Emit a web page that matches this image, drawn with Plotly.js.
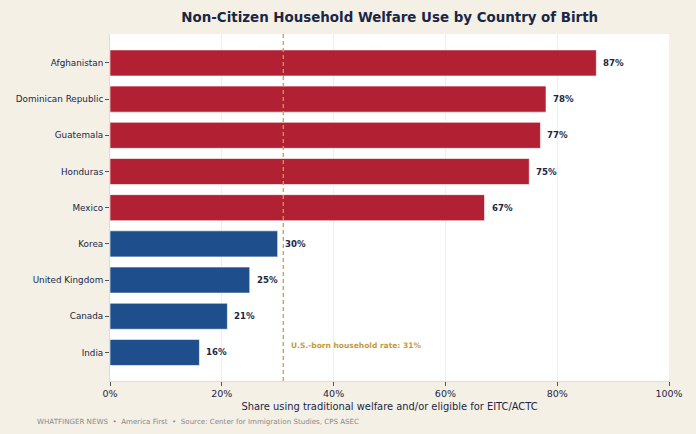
<!DOCTYPE html>
<html><head><meta charset="utf-8">
<script src="https://cdn.plot.ly/plotly-3.0.1.min.js"></script>
<style>html,body{margin:0;padding:0;background:#f4f0e6;}</style>
</head><body>
<div id="chart" style="width:696px;height:434px;"></div>
<script>
const countries = ["Afghanistan","Dominican Republic","Guatemala","Honduras","Mexico","Korea","United Kingdom","Canada","India"];
const shares = [87,78,77,75,67,30,25,21,16];
const usBornRate = 31;
const highColor = "#b22034", lowColor = "#1f4e8c";
const colors = shares.map(v => v > usBornRate ? highColor : lowColor);

const trace = {
  type: "bar", orientation: "h",
  y: countries, x: shares,
  width: 0.72,
  marker: {color: colors, line: {color: "rgba(255,255,255,0.6)", width: 1}},
  hoverinfo: "none"
};

const labelAnnotations = shares.map((v, i) => ({
  xref: "x", yref: "y", x: v, y: countries[i], text: "<b>" + v + "%</b>",
  showarrow: false, xanchor: "left", xshift: 5,
  font: {size: 8.6, color: "#1a2744"}
}));

const layout = {
  width: 696, height: 434,
  paper_bgcolor: "#f4f0e6", plot_bgcolor: "#ffffff",
  margin: {l: 110, r: 27, t: 34, b: 53},
  font: {family: "DejaVu Sans", color: "#1a2744"},
  title: {text: "<b>Non-Citizen Household Welfare Use by Country of Birth</b>", x: 0.56, xanchor: "center", y: 0.96, yanchor: "middle", font: {size: 13.4, color: "#1a2744"}},
  xaxis: {
    range: [0, 100], tickvals: [0,20,40,60,80,100], ticktext: ["0%","20%","40%","60%","80%","100%"],
    showgrid: true, gridcolor: "#eeeeee", zeroline: false,
    ticks: "outside", ticklen: 4, tickcolor: "#555", tickfont: {size: 9.5, color: "#1a2744"},
    showline: true, linecolor: "#dddddd",
    title: {text: "Share using traditional welfare and/or eligible for EITC/ACTC", font: {size: 9.9, color: "#1a2744"}, standoff: 4}
  },
  yaxis: {
    autorange: false, range: [8.79, -0.80], type: "category",
    showgrid: false, ticks: "outside", ticklen: 4, tickcolor: "#555",
    tickfont: {size: 8.8, color: "#1a2744"}, showline: true, linecolor: "#dddddd"
  },
  shapes: [{type: "line", xref: "x", yref: "paper", x0: usBornRate, x1: usBornRate, y0: 0, y1: 1, line: {color: "#c8a046", width: 1.3, dash: "4px,3px"}}],
  annotations: labelAnnotations.concat([
    {xref: "x", yref: "y", x: usBornRate + 1, y: 7.8, text: "<b>U.S.-born household rate: " + usBornRate + "%</b>", showarrow: false, xanchor: "left", font: {size: 7.5, color: "#c49a3c"}},
    {xref: "paper", yref: "paper", x: -0.134, y: -0.118, xanchor: "left", yanchor: "middle", showarrow: false, text: "WHATFINGER NEWS  •  America First  •  Source: Center for Immigration Studies, CPS ASEC", font: {size: 7.1, color: "#888888"}}
  ]),
  showlegend: false
};
Plotly.newPlot("chart", [trace], layout, {displayModeBar: false, staticPlot: true});
</script>
</body></html>
